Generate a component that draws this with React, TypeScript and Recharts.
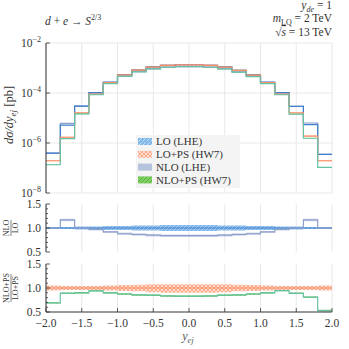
import React from 'react';
import { ComposedChart, Area, Line, XAxis, YAxis, CartesianGrid } from 'recharts';

// bin edges in y_ej, 20 bins of 0.2
const binEdges = [-2.0, -1.8, -1.6, -1.4, -1.2, -1.0, -0.8, -0.6, -0.4, -0.2, 0.0, 0.2, 0.4, 0.6, 0.8, 1.0, 1.2, 1.4, 1.6, 1.8, 2.0];

// dsigma/dy [pb] per bin
const loLhe = [3.9e-7, 5.2e-6, 3.0e-5, 1.03e-4, 2.7e-4, 5.4e-4, 8.3e-4, 1.1e-3, 1.28e-3, 1.35e-3, 1.35e-3, 1.28e-3, 1.1e-3, 8.1e-4, 5.3e-4, 2.7e-4, 1.03e-4, 2.9e-5, 5.4e-6, 3.5e-7];
const loPs = [1.95e-7, 1.7e-6, 1.6e-5, 9.1e-5, 2.6e-4, 5.3e-4, 8.2e-4, 1.09e-3, 1.28e-3, 1.35e-3, 1.35e-3, 1.28e-3, 1.09e-3, 8.0e-4, 5.2e-4, 2.6e-4, 9.0e-5, 1.6e-5, 1.9e-6, 1.95e-7];
const nloLhe = [3.9e-7, 6.1e-6, 3.0e-5, 1.0e-4, 2.5e-4, 4.75e-4, 7.2e-4, 9.3e-4, 1.08e-3, 1.13e-3, 1.13e-3, 1.08e-3, 9.3e-4, 7.0e-4, 4.65e-4, 2.5e-4, 1.0e-4, 2.9e-5, 6.3e-6, 3.5e-7];
const nloPs = [1.35e-7, 1.5e-6, 1.45e-5, 8.5e-5, 2.35e-4, 4.65e-4, 7.0e-4, 9.3e-4, 1.07e-3, 1.12e-3, 1.12e-3, 1.07e-3, 9.3e-4, 6.85e-4, 4.55e-4, 2.35e-4, 8.5e-5, 1.42e-5, 1.55e-6, 1.05e-7];

// NLO / LO panel
const loBandLow = [0.98, 0.98, 0.97, 0.97, 0.96, 0.96, 0.95, 0.95, 0.94, 0.94, 0.94, 0.94, 0.95, 0.95, 0.96, 0.96, 0.97, 0.97, 0.98, 0.98];
const loBandHigh = [1.02, 1.02, 1.03, 1.03, 1.04, 1.04, 1.05, 1.05, 1.06, 1.06, 1.06, 1.06, 1.05, 1.05, 1.04, 1.04, 1.03, 1.03, 1.02, 1.02];
const nloRatio = [1.0, 1.17, 1.0, 0.97, 0.92, 0.88, 0.865, 0.85, 0.84, 0.84, 0.84, 0.84, 0.85, 0.865, 0.88, 0.92, 0.97, 1.0, 1.17, 1.0];
const nloBandLow = [0.985, 1.14, 0.985, 0.95, 0.895, 0.855, 0.84, 0.825, 0.815, 0.815, 0.815, 0.815, 0.825, 0.84, 0.855, 0.895, 0.95, 0.985, 1.14, 0.985];
const nloBandHigh = [1.015, 1.195, 1.015, 0.99, 0.94, 0.905, 0.89, 0.875, 0.865, 0.865, 0.865, 0.865, 0.875, 0.89, 0.905, 0.94, 0.99, 1.015, 1.195, 1.015];

// NLO+PS / LO+PS panel
const psBandLow = [0.95, 0.96, 0.96, 0.96, 0.95, 0.94, 0.93, 0.91, 0.9, 0.9, 0.9, 0.9, 0.91, 0.93, 0.94, 0.95, 0.96, 0.96, 0.96, 0.95];
const psBandHigh = [1.05, 1.04, 1.04, 1.04, 1.05, 1.06, 1.07, 1.08, 1.08, 1.08, 1.08, 1.08, 1.08, 1.07, 1.06, 1.05, 1.04, 1.04, 1.04, 1.05];
const nloPsRatio = [0.69, 0.89, 0.9, 0.94, 0.9, 0.875, 0.855, 0.85, 0.835, 0.83, 0.83, 0.835, 0.85, 0.855, 0.875, 0.9, 0.944, 0.89, 0.81, 0.53];
const nloPsBandLow = [0.675, 0.875, 0.885, 0.925, 0.885, 0.86, 0.84, 0.835, 0.82, 0.815, 0.815, 0.82, 0.835, 0.84, 0.86, 0.885, 0.93, 0.875, 0.795, 0.515];
const nloPsBandHigh = [0.705, 0.905, 0.915, 0.955, 0.915, 0.89, 0.87, 0.865, 0.85, 0.845, 0.845, 0.85, 0.865, 0.87, 0.89, 0.915, 0.96, 0.905, 0.825, 0.545];

const majorX = [-2, -1.5, -1, -0.5, 0, 0.5, 1, 1.5, 2];
const minorX = [-1.9, -1.8, -1.7, -1.6, -1.4, -1.3, -1.2, -1.1, -0.9, -0.8, -0.7, -0.6, -0.4, -0.3, -0.2, -0.1, 0.1, 0.2, 0.3, 0.4, 0.6, 0.7, 0.8, 0.9, 1.1, 1.2, 1.3, 1.4, 1.6, 1.7, 1.8, 1.9];
const logTicks = [1e-8, 1e-6, 1e-4, 1e-2];
const ratioMajor = [0.5, 1.0, 1.5];
const ratioAll = [0.5, 0.6, 0.7, 0.8, 0.9, 1.0, 1.1, 1.2, 1.3, 1.4, 1.5];

const FRAME = '#333';
const C_LO = '#3f7fcc';
const C_LOPS = '#fc8d62';
const C_NLO = '#8da0cb';
const C_NLOPS = '#66c2a5';
const FONT = '"Liberation Serif", "DejaVu Serif", serif';

const last = loLhe.length - 1;

const mainRows = binEdges.map((x, i) => {
  const k = Math.min(i, last);
  return {
    x,
    lo: loLhe[k],
    loPs: loPs[k],
    nlo: nloLhe[k],
    nloPs: nloPs[k],
    loBand: [loLhe[k] * loBandLow[k], loLhe[k] * loBandHigh[k]],
    psBand: [loPs[k] * psBandLow[k], loPs[k] * psBandHigh[k]],
    nloBand: [(nloLhe[k] * nloBandLow[k]) / nloRatio[k], (nloLhe[k] * nloBandHigh[k]) / nloRatio[k]],
    nloPsBand: [(nloPs[k] * nloPsBandLow[k]) / nloPsRatio[k], (nloPs[k] * nloPsBandHigh[k]) / nloPsRatio[k]],
  };
});

const ratio1Rows = binEdges.map((x, i) => {
  const k = Math.min(i, last);
  return {
    x,
    one: 1,
    loBand: [loBandLow[k], loBandHigh[k]],
    nlo: nloRatio[k],
    nloBand: [nloBandLow[k], nloBandHigh[k]],
  };
});

const ratio2Rows = binEdges.map((x, i) => {
  const k = Math.min(i, last);
  return {
    x,
    one: 1,
    psBand: [psBandLow[k], psBandHigh[k]],
    nloPs: nloPsRatio[k],
    nloPsBand: [nloPsBandLow[k], nloPsBandHigh[k]],
  };
});

type Side = 'left' | 'right' | 'top' | 'bottom';

// tick marks point inward, labels only on majors
const makeTick =
  (side: Side, majors: number[], fmt?: (v: number) => React.ReactNode) =>
  (props: any) => {
    const { x, y, payload } = props;
    const v = payload.value;
    const major = majors.includes(v);
    const len = major ? 4 : 2;
    let line = null;
    if (side === 'left') line = <line x1={x} x2={x + len} y1={y} y2={y} />;
    if (side === 'right') line = <line x1={x} x2={x - len} y1={y} y2={y} />;
    if (side === 'top') line = <line x1={x} x2={x} y1={y} y2={y + len} />;
    if (side === 'bottom') line = <line x1={x} x2={x} y1={y} y2={y - len} />;
    let label = null;
    if (major && fmt) {
      if (side === 'left')
        label = (
          <text x={x - 5} y={y} dy={4} textAnchor="end" fontSize={11.5} fill={FRAME} stroke="none">
            {fmt(v)}
          </text>
        );
      if (side === 'bottom')
        label = (
          <text x={x} y={y + 14.5} textAnchor="middle" fontSize={11.5} fill={FRAME} stroke="none">
            {fmt(v)}
          </text>
        );
    }
    return (
      <g stroke={FRAME} strokeWidth={0.8}>
        {line}
        {label}
      </g>
    );
  };

const powFmt = (v: number) => (
  <>
    10
    <tspan dy={-5} fontSize={8}>
      {'−' + Math.abs(Math.round(Math.log10(v)))}
    </tspan>
  </>
);
const decFmt = (v: number) => v.toFixed(1).replace('-', '−');

const Patterns = () => (
  <svg width={0} height={0} style={{ position: 'absolute' }}>
    <defs>
      <pattern id="hatchLo" width={4} height={4} patternUnits="userSpaceOnUse">
        <rect width={4} height={4} fill="#82b9ea" />
        <path d="M0,4L4,0" stroke="#fff" strokeWidth={0.7} strokeDasharray="1.2 1" />
      </pattern>
      <pattern id="hatchPs" width={4} height={4} patternUnits="userSpaceOnUse">
        <rect width={4} height={4} fill="#fcaa8a" />
        <path d="M0,0L4,4M4,0L0,4" stroke="#fff" strokeWidth={0.6} />
      </pattern>
      <pattern id="hatchNloPs" width={4} height={4} patternUnits="userSpaceOnUse">
        <rect width={4} height={4} fill="#82d05e" />
        <path d="M0,4L4,0M-1,1L1,-1M3,5L5,3" stroke="#3f9f48" strokeWidth={0.7} />
      </pattern>
    </defs>
  </svg>
);

function frameAxes(opts: {
  yScale?: 'log' | 'linear';
  yDomain: number[];
  yTicks: number[];
  yMajors: number[];
  yFmt: (v: number) => React.ReactNode;
  xMinor: boolean;
  xLabels: boolean;
}) {
  const { yScale = 'linear', yDomain, yTicks, yMajors, yFmt, xMinor, xLabels } = opts;
  const topTicks = xMinor ? [...majorX, ...minorX] : majorX;
  return [
    <XAxis
      key="xb"
      type="number"
      dataKey="x"
      domain={[-2, 2]}
      ticks={majorX}
      interval={0}
      height={xLabels ? 20 : 0}
      tickSize={0}
      tickMargin={0}
      tickLine={false}
      axisLine={{ stroke: FRAME, strokeWidth: 1 }}
      tick={makeTick('bottom', majorX, xLabels ? decFmt : undefined)}
      allowDataOverflow
    />,
    xMinor ? (
      <XAxis
        key="xbm"
        xAxisId="mb"
        type="number"
        dataKey="x"
        domain={[-2, 2]}
        ticks={minorX}
        interval={0}
        height={0}
        tickSize={0}
        tickMargin={0}
        tickLine={false}
        axisLine={false}
        tick={makeTick('bottom', [])}
        allowDataOverflow
      />
    ) : null,
    <XAxis
      key="xt"
      xAxisId="t"
      orientation="top"
      type="number"
      dataKey="x"
      domain={[-2, 2]}
      ticks={topTicks}
      interval={0}
      height={0}
      tickSize={0}
      tickMargin={0}
      tickLine={false}
      axisLine={{ stroke: FRAME, strokeWidth: 1 }}
      tick={makeTick('top', majorX)}
      allowDataOverflow
    />,
    <YAxis
      key="yl"
      type="number"
      scale={yScale}
      domain={yDomain}
      ticks={yTicks}
      interval={0}
      width={46}
      tickSize={0}
      tickMargin={0}
      tickLine={false}
      axisLine={{ stroke: FRAME, strokeWidth: 1 }}
      tick={makeTick('left', yMajors, yFmt)}
      allowDataOverflow
    />,
    <YAxis
      key="yr"
      yAxisId="r"
      orientation="right"
      type="number"
      scale={yScale}
      domain={yDomain}
      ticks={yTicks}
      interval={0}
      width={0}
      tickSize={0}
      tickMargin={0}
      tickLine={false}
      axisLine={{ stroke: FRAME, strokeWidth: 1 }}
      tick={makeTick('right', yMajors)}
      allowDataOverflow
    />,
  ];
}

const stepLine = (key: string, color: string, w = 1.2) => (
  <Line
    key={key}
    type="stepAfter"
    dataKey={key}
    stroke={color}
    strokeWidth={w}
    dot={false}
    activeDot={false}
    isAnimationActive={false}
  />
);

const bandArea = (key: string, fill: string, opacity = 1) => (
  <Area
    key={key}
    type="stepAfter"
    dataKey={key}
    stroke="none"
    fill={fill}
    fillOpacity={opacity}
    activeDot={false}
    isAnimationActive={false}
  />
);

const MainPanel = () => (
  <ComposedChart width={349} height={200} data={mainRows} margin={{ top: 43, right: 17, bottom: 7, left: 0 }}>
    <CartesianGrid stroke="#e3e3e3" strokeWidth={0.8} />
    {frameAxes({
      yScale: 'log',
      yDomain: [1e-8, 1e-2],
      yTicks: logTicks,
      yMajors: logTicks,
      yFmt: powFmt,
      xMinor: true,
      xLabels: false,
    })}
    {bandArea('nloBand', C_NLO, 0.55)}
    {bandArea('loBand', 'url(#hatchLo)')}
    {bandArea('psBand', 'url(#hatchPs)')}
    {bandArea('nloPsBand', 'url(#hatchNloPs)')}
    {stepLine('nlo', C_NLO)}
    {stepLine('lo', C_LO)}
    {stepLine('loPs', C_LOPS)}
    {stepLine('nloPs', C_NLOPS)}
  </ComposedChart>
);

const RatioPanel1 = () => (
  <ComposedChart width={349} height={64} data={ratio1Rows} margin={{ top: 8, right: 17, bottom: 8, left: 0 }}>
    <CartesianGrid stroke="#e3e3e3" strokeWidth={0.8} horizontal={false} />
    {frameAxes({
      yDomain: [0.5, 1.5],
      yTicks: ratioAll,
      yMajors: ratioMajor,
      yFmt: decFmt,
      xMinor: false,
      xLabels: false,
    })}
    {bandArea('nloBand', C_NLO, 0.45)}
    {bandArea('loBand', 'url(#hatchLo)')}
    {stepLine('one', C_LO)}
    {stepLine('nlo', C_NLO)}
  </ComposedChart>
);

const RatioPanel2 = () => (
  <ComposedChart width={349} height={93} data={ratio2Rows} margin={{ top: 8, right: 17, bottom: 17, left: 0 }}>
    <CartesianGrid stroke="#e3e3e3" strokeWidth={0.8} horizontal={false} />
    {frameAxes({
      yDomain: [0.5, 1.5],
      yTicks: ratioAll,
      yMajors: ratioMajor,
      yFmt: decFmt,
      xMinor: false,
      xLabels: true,
    })}
    {bandArea('psBand', 'url(#hatchPs)')}
    {stepLine('one', C_LOPS)}
    {bandArea('nloPsBand', 'url(#hatchNloPs)')}
    {stepLine('nloPs', C_NLOPS)}
  </ComposedChart>
);

const legendItems = [
  { label: 'LO (LHE)', fill: 'url(#hatchLo)', opacity: 1 },
  { label: 'LO+PS (HW7)', fill: 'url(#hatchPs)', opacity: 1 },
  { label: 'NLO (LHE)', fill: C_NLO, opacity: 0.6 },
  { label: 'NLO+PS (HW7)', fill: 'url(#hatchNloPs)', opacity: 1 },
];

const Overlay = () => (
  <svg width={349} height={349} style={{ position: 'absolute', left: 0, top: 0, pointerEvents: 'none' }} fill={FRAME}>
    {/* process and parameters */}
    <text x={45} y={25} fontSize={11.5}>
      <tspan fontStyle="italic">d</tspan> + <tspan fontStyle="italic">e</tspan> → <tspan fontStyle="italic">S</tspan>
      <tspan dy={-5} fontSize={8}>2/3</tspan>
    </text>
    <text x={332} y={9} fontSize={11.5} textAnchor="end">
      <tspan fontStyle="italic">y</tspan>
      <tspan dy={2.5} fontSize={8} fontStyle="italic">de</tspan>
      <tspan dy={-2.5}> = 1</tspan>
    </text>
    <text x={332} y={22} fontSize={11.5} textAnchor="end">
      <tspan fontStyle="italic">m</tspan>
      <tspan dy={2.5} fontSize={8}>LQ</tspan>
      <tspan dy={-2.5}> = 2 TeV</tspan>
    </text>
    <text x={332} y={36} fontSize={11.5} textAnchor="end">
      √<tspan fontStyle="italic" textDecoration="overline">s</tspan> = 13 TeV
    </text>

    {/* y labels */}
    <text transform="translate(13,115) rotate(-90)" textAnchor="middle" fontSize={12.5}>
      <tspan fontStyle="italic">dσ/dy</tspan>
      <tspan dy={2.5} fontSize={9} fontStyle="italic">ej</tspan>
      <tspan dy={-2.5}> [pb]</tspan>
    </text>
    <g transform="translate(11,228) rotate(-90)">
      <text x={0} y={-2} textAnchor="middle" fontSize={8}>NLO</text>
      <line x1={-8} x2={8} y1={0} y2={0} stroke={FRAME} strokeWidth={0.6} />
      <text x={0} y={7} textAnchor="middle" fontSize={8}>LO</text>
    </g>
    <g transform="translate(11,288) rotate(-90)">
      <text x={0} y={-2} textAnchor="middle" fontSize={8}>NLO+PS</text>
      <line x1={-14} x2={14} y1={0} y2={0} stroke={FRAME} strokeWidth={0.6} />
      <text x={0} y={7} textAnchor="middle" fontSize={8}>LO+PS</text>
    </g>

    {/* x label */}
    <text x={188} y={340} textAnchor="middle" fontSize={12} fill="#555">
      <tspan fontStyle="italic">y</tspan>
      <tspan dy={2.5} fontSize={8.5} fontStyle="italic">ej</tspan>
    </text>

    {/* legend */}
    <rect x={136} y={135} width={104} height={53} fill="#f3f3f3" fillOpacity={0.92} />
    {legendItems.map((it, i) => {
      const cy = 141.5 + i * 12.8;
      return (
        <g key={it.label}>
          <rect x={138} y={cy - 3.5} width={14} height={7} fill={it.fill} fillOpacity={it.opacity} />
          <text x={156} y={cy + 3.8} fontSize={11}>
            {it.label}
          </text>
        </g>
      );
    })}
  </svg>
);

export default function App() {
  return (
    <div
      style={{
        position: 'absolute',
        left: 0,
        top: 0,
        width: 349,
        height: 349,
        background: '#fff',
        fontFamily: FONT,
        overflow: 'hidden',
      }}
    >
      <Patterns />
      <div style={{ position: 'absolute', left: 0, top: 0 }}>
        <MainPanel />
      </div>
      <div style={{ position: 'absolute', left: 0, top: 196 }}>
        <RatioPanel1 />
      </div>
      <div style={{ position: 'absolute', left: 0, top: 256 }}>
        <RatioPanel2 />
      </div>
      <Overlay />
    </div>
  );
}
